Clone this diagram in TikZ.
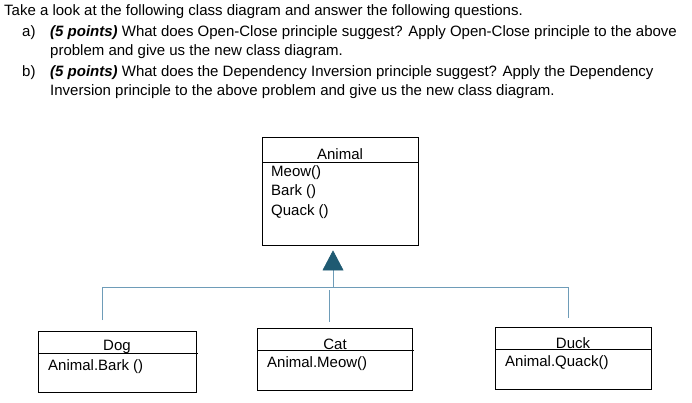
\documentclass[tikz,border=0pt]{standalone}
\usepackage{fontspec}
\setmainfont{Liberation Sans}
\definecolor{conn}{HTML}{6E9CB8}
\definecolor{tri}{HTML}{1F5A72}
\begin{document}
\begin{tikzpicture}[x=1pt,y=-1pt,
  txt/.style={anchor=west,inner sep=0pt,font=\fontsize{15}{17}\selectfont},
  box/.style={draw=black,line width=1pt},
  conline/.style={draw=conn,line width=0.9pt}]
\useasboundingbox (0,0) rectangle (692,403);
\node[txt] (t0) at (4,12) {Take a look at the following class diagram and answer the following questions.};
\node[txt] (a) at (22,33) {a)};
\node[txt] (a1) at (50,33) {\textbf{\textit{(5 points)}} What does Open-Close principle suggest? Apply Open-Close principle to the above};
\node[txt] (a2) at (50,52) {problem and give us the new class diagram.};
\node[txt] (b) at (22,73) {b)};
\node[txt] (b1) at (50,73) {\textbf{\textit{(5 points)}} What does the Dependency Inversion principle suggest? Apply the Dependency};
\node[txt] (b2) at (50,92) {Inversion principle to the above problem and give us the new class diagram.};
% Animal
\draw[box] (262,138) rectangle (418,245);
\draw[line width=0.6pt] (262,162) -- (418,162);
\node[txt,anchor=center] (an) at (340,154) {Animal};
\node[txt] (m1) at (271,173) {Meow()};
\node[txt] (m2) at (271,192) {Bark ()};
\node[txt] (m3) at (271,212) {Quack ()};
% connectors
\coordinate (tb) at (333,270);
\coordinate (h) at (333,287);
\draw[conline] (tb) -- (h);
\draw[conline] (102,320) -- (102,287) -- (568,287) -- (568,318);
\draw[conline] (329,290) -- (329,322);
\fill[tri,draw=tri,line width=0.6pt] (333,251) -- (343,270) -- (323,270) -- cycle;
% Dog
\draw[box] (38,331) rectangle (196,392);
\draw[line width=0.6pt] (38,353) -- (198,353);
\node[txt,anchor=center] (dg) at (117,347) {Dog};
\node[txt] (dg1) at (48,367) {Animal.Bark ()};
% Cat
\draw[box] (257,328) rectangle (412,390);
\draw[line width=0.6pt] (257,350) -- (414,350);
\node[txt,anchor=center] (ct) at (335,344) {Cat};
\node[txt] (ct1) at (267,364) {Animal.Meow()};
% Duck
\draw[box] (495,327) rectangle (651,389);
\draw[line width=0.6pt] (495,349) -- (651,349);
\node[txt,anchor=center] (dk) at (573,343) {Duck};
\node[txt] (dk1) at (505,363) {Animal.Quack()};
\end{tikzpicture}
\end{document}
